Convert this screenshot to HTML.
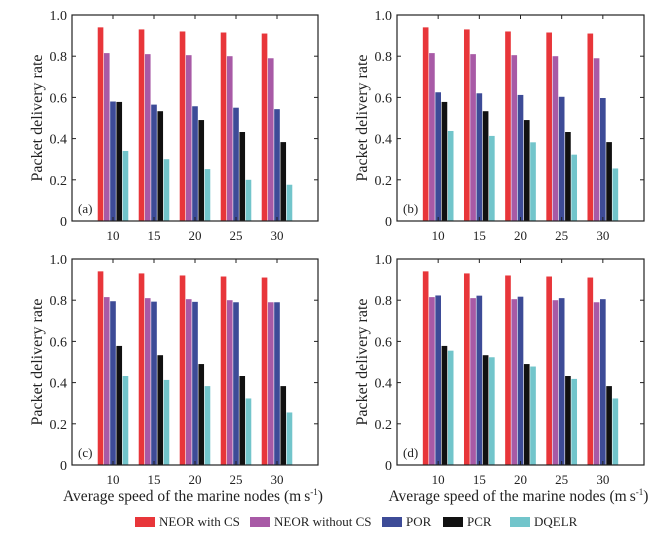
<!DOCTYPE html>
<html><head><meta charset="utf-8"><style>
html,body{margin:0;padding:0;background:#fff;}
svg{display:block;font-family:"Liberation Serif",serif;}
</style></head><body>
<svg id="chart" width="667" height="540" viewBox="0 0 667 540"></svg>
<script>
const categories = [10, 15, 20, 25, 30];
const seriesNames = ["NEOR with CS", "NEOR without CS", "POR", "PCR", "DQELR"];
const yTicks = [0, 0.2, 0.4, 0.6, 0.8, 1.0];
const yTickLabels = ["0", "0.2", "0.4", "0.6", "0.8", "1.0"];
const redVals = [0.94, 0.93, 0.92, 0.915, 0.91];
const purpleVals = [0.815, 0.81, 0.805, 0.80, 0.79];
const blackVals = [0.578, 0.533, 0.49, 0.432, 0.383];
const blueA = [0.58, 0.565, 0.557, 0.55, 0.543];
const cyanA = [0.34, 0.30, 0.252, 0.20, 0.176];
const blueB = [0.625, 0.62, 0.612, 0.603, 0.597];
const cyanB = [0.437, 0.413, 0.382, 0.322, 0.255];
const blueC = [0.795, 0.793, 0.792, 0.79, 0.79];
const cyanC = [0.432, 0.413, 0.383, 0.323, 0.255];
const blueD = [0.823, 0.822, 0.817, 0.81, 0.805];
const cyanD = [0.555, 0.523, 0.478, 0.418, 0.323];
const panelLabels = ["(a)", "(b)", "(c)", "(d)"];

const colors = ["#e8363a", "#a85aa6", "#3d4b97", "#111111", "#72c5cb"];
const NS = "http://www.w3.org/2000/svg";
const svg = document.getElementById("chart");
function mk(tag, attrs, parent) {
  const e = document.createElementNS(NS, tag);
  for (const k in attrs) e.setAttribute(k, attrs[k]);
  (parent || svg).appendChild(e);
  return e;
}
const panels = [
  {x0: 72, x1: 318, y0: 15, y1: 221, data: [redVals, purpleVals, blueA, blackVals, cyanA], xtitle: false},
  {x0: 397, x1: 644, y0: 15, y1: 221, data: [redVals, purpleVals, blueB, blackVals, cyanB], xtitle: false},
  {x0: 72, x1: 318, y0: 259, y1: 465, data: [redVals, purpleVals, blueC, blackVals, cyanC], xtitle: true},
  {x0: 397, x1: 644, y0: 259, y1: 465, data: [redVals, purpleVals, blueD, blackVals, cyanD], xtitle: true}
];
panels.forEach((p, pi) => {
  const g = mk("g", {});
  
  
  const xs = v => p.x0 + (v - 5) / 30 * (p.x1 - p.x0);
  const ys = v => p.y1 - v * (p.y1 - p.y0);
  const unit = (p.x1 - p.x0) / 30;
  const bw = unit * 0.76;
  p.data.forEach((vals, si) => {
    vals.forEach((v, ci) => {
      const cx = xs(categories[ci]) + (si - 2) * bw;
      const r = mk("rect", {x: cx - bw / 2 + 0.3, y: ys(v), width: bw - 0.6, height: ys(0) - ys(v), fill: colors[si]}, g);
      
      
    });
  });
  const frame = mk("rect", {x: p.x0, y: p.y0, width: p.x1 - p.x0, height: p.y1 - p.y0, fill: "none", stroke: "#222", "stroke-width": 1.2}, g);
  
  
  yTicks.forEach((t, i) => {
    const y = ys(t);
    mk("line", {x1: p.x0, x2: p.x0 + 4, y1: y, y2: y, stroke: "#222"}, g);
    mk("line", {x1: p.x1, x2: p.x1 - 4, y1: y, y2: y, stroke: "#222"}, g);
    const tl = mk("text", {x: p.x0 - 5, y: y + 5, "text-anchor": "end", "font-size": 14, fill: "#222"}, g);
    tl.textContent = yTickLabels[i];
    
    
  });
  categories.forEach(c => {
    const x = xs(c);
    mk("line", {x1: x, x2: x, y1: p.y1, y2: p.y1 - 4, stroke: "#222"}, g);
    mk("line", {x1: x, x2: x, y1: p.y0, y2: p.y0 + 4, stroke: "#222"}, g);
    const tl = mk("text", {x: x, y: p.y1 + 19, "text-anchor": "middle", "font-size": 13, fill: "#222"}, g);
    tl.textContent = c;
    
    
  });
  const yl = mk("text", {x: 0, y: 0, transform: "translate(" + (p.x0 - 30) + "," + ((p.y0 + p.y1) / 2) + ") rotate(-90)", "text-anchor": "middle", "font-size": 16, fill: "#222"}, g);
  yl.textContent = "Packet delivery rate";
  
  
  const pl = mk("text", {x: p.x0 + 6, y: p.y1 - 8, "font-size": 13, fill: "#222"}, g);
  pl.textContent = panelLabels[pi];
  
  
  if (p.xtitle) {
    const xt = mk("text", {x: (p.x0 + p.x1) / 2 - 2, y: 501, "text-anchor": "middle", "font-size": 15.5, fill: "#222"}, g);
    xt.innerHTML = 'Average speed of the marine nodes (m\u2009s<tspan dy="-6" font-size="9">-1</tspan><tspan dy="6">)</tspan>';
    
    
  }
});
const legX = [135, 250, 382, 443, 510];
const lg = mk("g", {});


seriesNames.forEach((n, i) => {
  const e = mk("g", {}, lg);
  
  
  mk("rect", {x: legX[i], y: 517, width: 20, height: 10, fill: colors[i]}, e);
  const t = mk("text", {x: legX[i] + 24, y: 526, "font-size": 13, fill: "#222"}, e);
  t.textContent = n;
});
</script>
</body></html>
